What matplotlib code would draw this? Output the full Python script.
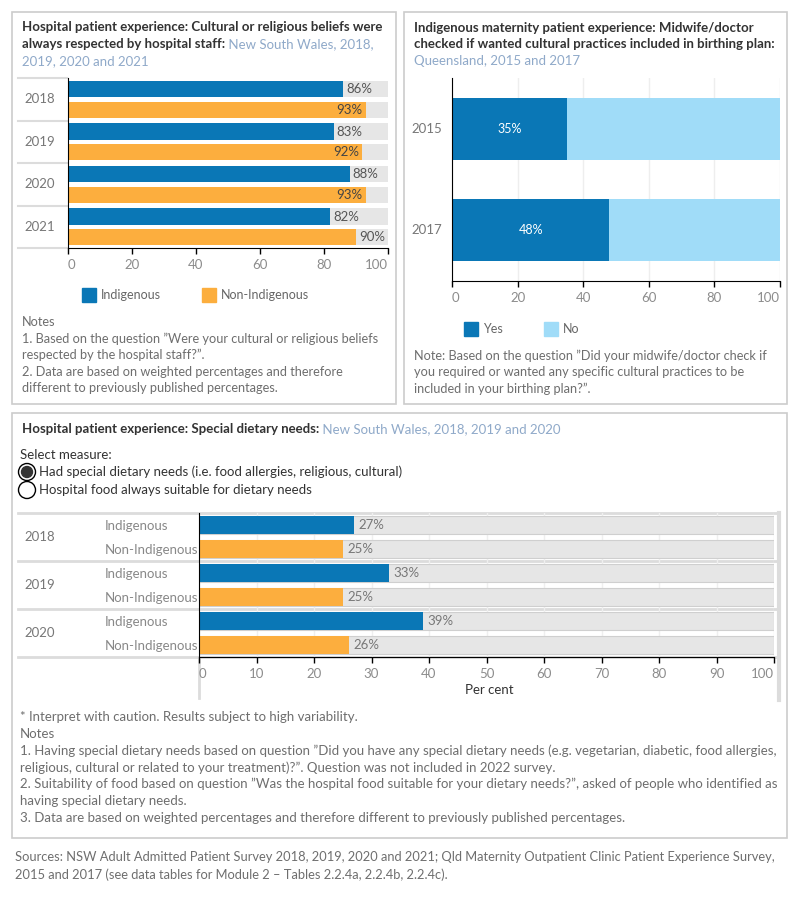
import matplotlib
matplotlib.use("Agg")
import matplotlib.pyplot as plt
from matplotlib.patches import Rectangle, Circle

plt.rcParams['font.family'] = ['Lato', 'DejaVu Sans']

# --- data -----------------------------------------------------------------
years_a = ["2018", "2019", "2020", "2021"]
indig_a = [86, 83, 88, 82]
nonindig_a = [93, 92, 93, 90]

years_b = ["2015", "2017"]
yes_b = [35, 48]
no_b = [65, 52]

years_c = ["2018", "2019", "2020"]
groups_c = ["Indigenous", "Non-Indigenous"]
indig_c = [27, 33, 39]
nonindig_c = [25, 25, 26]

BLUE = "#0a77b6"
ORANGE = "#fcae3e"
LIGHTBLUE = "#a0dcf8"
GREYBG = "#e6e6e6"
DARK = "#333333"
SUB = "#8fa9c9"
TICK = "#8c8c8c"
NOTE = "#6e6e6e"
SEP = "#dcdcdc"

W, H = 800, 900
fig = plt.figure(figsize=(8, 9), dpi=100)

# overlay axes in pixel coordinates for boxes and free text
bg = fig.add_axes([0, 0, 1, 1])
bg.set_xlim(0, W)
bg.set_ylim(H, 0)
bg.axis("off")
renderer = fig.canvas.get_renderer()


def box_axes(x0, y0, x1, y1):
    ax = fig.add_axes([x0 / W, 1 - y1 / H, (x1 - x0) / W, (y1 - y0) / H])
    ax.set_facecolor("none")
    return ax


def rich_line(x, y, parts, size=9.5):
    for s, weight, color in parts:
        t = bg.text(x, y, s, fontsize=size, fontweight=weight, color=color,
                    va="center", ha="left")
        x += t.get_window_extent(renderer).width


def txt(x, y, s, size=9, color=NOTE, **kw):
    kw.setdefault("va", "center")
    return bg.text(x, y, s, fontsize=size, color=color, **kw)


def style_x(ax, ticks):
    for sp in ["top", "right"]:
        ax.spines[sp].set_visible(False)
    ax.spines["left"].set_color("black")
    ax.spines["bottom"].set_color("black")
    ax.set_xlim(0, 100)
    ax.set_xticks(ticks)
    ax.tick_params(axis="x", length=4, width=1, colors="black",
                   labelcolor=TICK, labelsize=9.5, pad=4)
    labels = ax.get_xticklabels()
    labels[0].set_horizontalalignment("left")
    labels[-1].set_horizontalalignment("right")
    ax.set_yticks([])


# panel frames
for x0, y0, x1, y1 in [(12, 12, 396, 404), (404, 12, 787, 404), (12, 413, 787, 838)]:
    bg.add_patch(Rectangle((x0, y0), x1 - x0, y1 - y0, fill=False,
                           edgecolor="#cccccc", lw=1.2))

# --- panel 1 --------------------------------------------------------------
B = "bold"
rich_line(22, 27, [("Hospital patient experience: Cultural or religious beliefs were", B, DARK)])
rich_line(22, 44, [("always respected by hospital staff:", B, DARK),
                   (" New South Wales, 2018,", "normal", SUB)])
rich_line(22, 61, [("2019, 2020 and 2021", "normal", SUB)])

ax1 = box_axes(68, 78, 388, 248)
n = len(years_a)
pos_i = [i + 0.26 for i in range(n)]
pos_n = [i + 0.75 for i in range(n)]
ax1.barh(pos_i, [100] * n, height=0.38, color=GREYBG)
ax1.barh(pos_n, [100] * n, height=0.38, color=GREYBG)
ax1.barh(pos_i, indig_a, height=0.38, color=BLUE)
ax1.barh(pos_n, nonindig_a, height=0.38, color=ORANGE)
for p, v in list(zip(pos_i, indig_a)) + list(zip(pos_n, nonindig_a)):
    if v > 91:
        ax1.text(v - 1, p, f"{v}%", ha="right", va="center", fontsize=9.5, color="#444444")
    else:
        ax1.text(v + 1, p, f"{v}%", ha="left", va="center", fontsize=9.5, color="#555555")
ax1.set_ylim(n, 0)
style_x(ax1, range(0, 101, 20))

row_h = (248 - 78) / n
for i in range(n + 1):
    bg.plot([18, 67], [78 + i * row_h] * 2, color=SEP, lw=1.5)
for i, yr in enumerate(years_a):
    txt(40, 78 + (i + 0.5) * row_h, yr, size=9.5, color="#777777", ha="center")

bg.add_patch(Rectangle((82, 288), 14, 14, color=BLUE))
txt(101, 295, "Indigenous", size=9, color="#666666")
bg.add_patch(Rectangle((202, 288), 14, 14, color=ORANGE))
txt(221, 295, "Non-Indigenous", size=9, color="#666666")

notes1 = ["Notes",
          "1. Based on the question \u201dWere your cultural or religious beliefs",
          "respected by the hospital staff?\u201d.",
          "2. Data are based on weighted percentages and therefore",
          "different to previously published percentages."]
for k, line in enumerate(notes1):
    txt(22, 322 + k * 16.6, line, size=9.2)

# --- panel 2 --------------------------------------------------------------
rich_line(414, 28, [("Indigenous maternity patient experience: Midwife/doctor", B, DARK)])
rich_line(414, 44, [("checked if wanted cultural practices included in birthing plan:", B, DARK)])
rich_line(414, 61, [("Queensland, 2015 and 2017", "normal", SUB)])

ax2 = box_axes(452, 78, 780, 281)
pos_b = list(range(len(years_b)))
ax2.barh(pos_b, yes_b, height=0.61, color=BLUE, zorder=2)
ax2.barh(pos_b, no_b, left=yes_b, height=0.61, color=LIGHTBLUE, zorder=2)
for p, v in zip(pos_b, yes_b):
    ax2.text(v / 2, p, f"{v}%", ha="center", va="center", fontsize=9, color="white", zorder=3)
ax2.set_ylim(1.5, -0.5)
style_x(ax2, range(0, 101, 20))
ax2.grid(axis="x", color="#eeeeee", lw=1, zorder=0)
ax2.set_axisbelow(True)
for p, yr in zip(pos_b, years_b):
    ax2.text(-3, p, yr, ha="right", va="center", fontsize=9.5, color="#777777")

bg.add_patch(Rectangle((464, 322), 14, 14, color=BLUE))
txt(483, 329, "Yes", size=9, color="#666666")
bg.add_patch(Rectangle((544, 322), 14, 14, color=LIGHTBLUE))
txt(563, 329, "No", size=9, color="#666666")

notes2 = ["Note: Based on the question \u201dDid your midwife/doctor check if",
          "you required or wanted any specific cultural practices to be",
          "included in your birthing plan?\u201d."]
for k, line in enumerate(notes2):
    txt(414, 356 + k * 16.5, line, size=9.2)

# --- panel 3 --------------------------------------------------------------
rich_line(22, 429, [("Hospital patient experience: Special dietary needs:", B, DARK),
                    (" New South Wales, 2018, 2019 and 2020", "normal", SUB)])
txt(20, 455, "Select measure:", size=9.5, color=DARK)
bg.add_patch(Circle((27, 472), 8.5, fill=False, edgecolor="black", lw=1))
bg.add_patch(Circle((27, 472), 5.5, color="#333333"))
bg.add_patch(Circle((27, 490), 8.5, fill=False, edgecolor="black", lw=1))
txt(39, 472, "Had special dietary needs (i.e. food allergies, religious, cultural)", size=9.5, color=DARK)
txt(39, 490, "Hospital food always suitable for dietary needs", size=9.5, color=DARK)

m = len(years_c)
top3, bot3 = 513, 657
row3 = (bot3 - top3) / m
for i in range(m + 1):
    bg.plot([18, 779], [top3 + i * row3] * 2, color=SEP, lw=2)
bg.plot([779, 779], [top3, 700], color=SEP, lw=3)
bg.plot([199, 199], [bot3, 698], color=SEP, lw=2)

ax3 = box_axes(199, top3, 774, bot3)
pos_ci = [i + 0.25 for i in range(m)]
pos_cn = [i + 0.75 for i in range(m)]
ax3.barh(pos_ci, [100] * m, height=0.375, color=GREYBG, edgecolor="#cfcfcf", lw=0.8, zorder=1)
ax3.barh(pos_cn, [100] * m, height=0.375, color=GREYBG, edgecolor="#cfcfcf", lw=0.8, zorder=1)
ax3.barh(pos_ci, indig_c, height=0.375, color=BLUE, zorder=2)
ax3.barh(pos_cn, nonindig_c, height=0.375, color=ORANGE, zorder=2)
for p, v in list(zip(pos_ci, indig_c)) + list(zip(pos_cn, nonindig_c)):
    ax3.text(v + 0.8, p, f"{v}%", ha="left", va="center", fontsize=9.5, color="#777777", zorder=3)
ax3.set_ylim(m, 0)
style_x(ax3, range(0, 101, 10))
ax3.grid(axis="x", color="#efefef", lw=1, zorder=0)
ax3.set_axisbelow(True)
for i, yr in enumerate(years_c):
    txt(40, top3 + (i + 0.5) * row3, yr, size=9.5, color="#777777", ha="center")
    txt(105, top3 + (i + 0.27) * row3, groups_c[0], size=9.5, color="#888888")
    txt(105, top3 + (i + 0.77) * row3, groups_c[1], size=9.5, color="#888888")
txt(489, 690, "Per cent", size=9.5, color=DARK, ha="center")

notes3 = ["* Interpret with caution. Results subject to high variability.",
          "Notes",
          "1. Having special dietary needs based on question \u201dDid you have any special dietary needs (e.g. vegetarian, diabetic, food allergies,",
          "religious, cultural or related to your treatment)?\u201d. Question was not included in 2022 survey.",
          "2. Suitability of food based on question \u201dWas the hospital food suitable for your dietary needs?\u201d, asked of people who identified as",
          "having special dietary needs.",
          "3. Data are based on weighted percentages and therefore different to previously published percentages."]
for k, line in enumerate(notes3):
    txt(20, 717 + k * 16.8, line, size=9.5)

sources = ["Sources: NSW Adult Admitted Patient Survey 2018, 2019, 2020 and 2021; Qld Maternity Outpatient Clinic Patient Experience Survey,",
           "2015 and 2017 (see data tables for Module 2 \u2013 Tables 2.2.4a, 2.2.4b, 2.2.4c)."]
for k, line in enumerate(sources):
    txt(15, 857 + k * 17.5, line, size=9.3)

plt.savefig("out.png", dpi=100)
plt.close()
